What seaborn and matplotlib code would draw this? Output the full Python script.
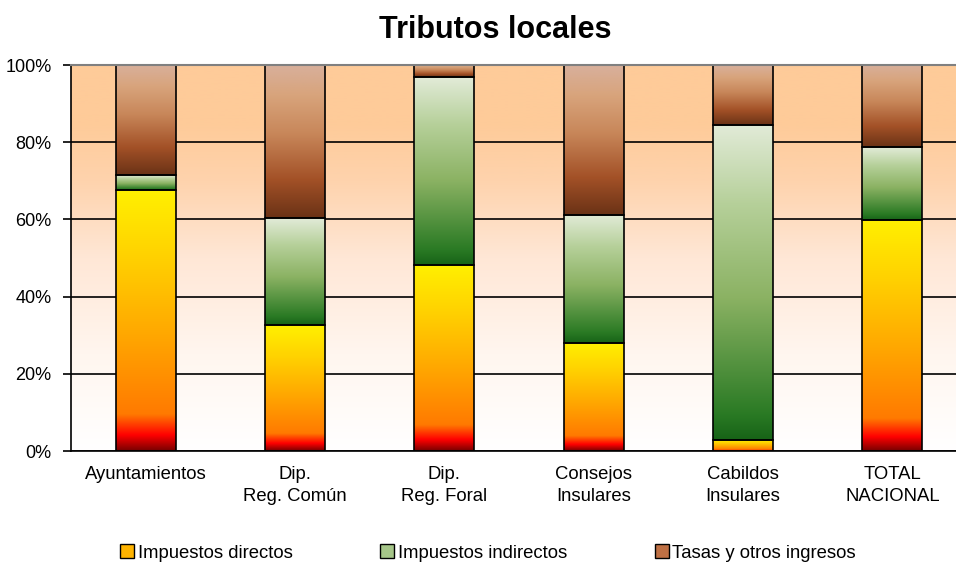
import numpy as np
import pandas as pd
import matplotlib
matplotlib.use("Agg")
import matplotlib.pyplot as plt
import seaborn as sns
from matplotlib.colors import LinearSegmentedColormap
from matplotlib.patches import Patch

# Datos (porcentaje de cada tipo de tributo)
categorias = ["Ayuntamientos", "Dip.\nReg. Común", "Dip.\nReg. Foral",
              "Consejos\nInsulares", "Cabildos\nInsulares", "TOTAL\nNACIONAL"]
directos = [67.6, 32.6, 48.3, 28.0, 2.8, 59.9]
indirectos = [3.8, 27.7, 48.5, 33.2, 81.7, 18.8]
tasas = [28.6, 39.7, 3.2, 38.8, 15.5, 21.3]
series = ["Impuestos directos", "Impuestos indirectos", "Tasas y otros ingresos"]

# Degradados (de abajo hacia arriba)
cmap_dir = LinearSegmentedColormap.from_list("dir", [
    (0.0, "#7a0000"), (0.06, "#ff0000"), (0.14, "#ff7a00"),
    (0.45, "#ffa800"), (0.75, "#ffd200"), (1.0, "#fff000")])
cmap_ind = LinearSegmentedColormap.from_list("ind", [
    (0.0, "#176317"), (0.08, "#2a7a24"), (0.45, "#8bb263"),
    (0.75, "#b6d09a"), (1.0, "#e2ebd8")])
cmap_tas = LinearSegmentedColormap.from_list("tas", [
    (0.0, "#6a3216"), (0.25, "#a35127"), (0.55, "#c8875a"),
    (0.8, "#d8a47c"), (1.0, "#d8b09c")])
cmap_fondo = LinearSegmentedColormap.from_list("fondo", [
    (0.0, "#ffffff"), (0.25, "#fff6ef"), (0.5, "#ffe7d6"),
    (0.7, "#fed3ad"), (0.85, "#fecb99"), (1.0, "#fecb99")])

df = pd.DataFrame({"categoria": categorias, "directos": directos,
                   "indirectos": indirectos, "tasas": tasas})

sns.set_style("white")
plt.rcParams["font.family"] = ["Liberation Sans", "DejaVu Sans"]
plt.rcParams["text.color"] = "black"
plt.rcParams["xtick.color"] = "black"
plt.rcParams["ytick.color"] = "black"

fig = plt.figure(figsize=(9.56, 5.62), dpi=100)
ax = fig.add_axes([71 / 956, 111 / 562, 896 / 956, 386 / 562])

# fondo degradado
grad = np.linspace(0, 1, 256).reshape(-1, 1)
ax.imshow(grad, extent=[0, 1, 0, 1], transform=ax.transAxes, cmap=cmap_fondo,
          origin="lower", aspect="auto", zorder=0)

# barras apiladas
base = np.zeros(len(categorias))
mapas = [cmap_dir, cmap_ind, cmap_tas]
for col, cm in zip(["directos", "indirectos", "tasas"], mapas):
    n_antes = len(ax.patches)
    sns.barplot(data=df, x="categoria", y=col, bottom=base, width=0.4,
                color="white", edgecolor="black", linewidth=1.2,
                ax=ax, zorder=2)
    for p in ax.patches[n_antes:]:
        x0, y0 = p.get_x(), p.get_y()
        w, h = p.get_width(), p.get_height()
        if h <= 0:
            continue
        im = ax.imshow(grad, extent=[x0, x0 + w, y0, y0 + h], cmap=cm,
                       origin="lower", aspect="auto", zorder=1.5)
        im.set_clip_path(p)
        p.set_facecolor("none")
    base = base + df[col].to_numpy()

ax.set_xlim(-0.5, 5.5)
ax.set_ylim(0, 100)
ax.set_aspect("auto")

# cuadrícula y ejes
ax.set_yticks(range(0, 101, 20))
ax.set_yticklabels([f"{v}%" for v in range(0, 101, 20)], fontsize=13)
ax.yaxis.grid(True, color="black", linewidth=1.2, zorder=0.5)
ax.set_axisbelow(True)
ax.set_xticks(np.arange(-0.5, 6, 1))
ax.set_xticklabels([])
ax.set_xticks(range(len(categorias)), minor=True)
ax.set_xticklabels(categorias, minor=True, fontsize=13.3, linespacing=1.35)
ax.tick_params(axis="x", which="minor", length=0, pad=11, labelcolor="black")
ax.tick_params(axis="x", which="major", direction="out", length=6, width=1.2, color="black")
ax.tick_params(axis="y", direction="out", length=6, width=1.2, color="black",
               left=True, pad=8, labelcolor="black")
ax.set_xlabel("")
ax.set_ylabel("")
for lado in ["left", "bottom"]:
    ax.spines[lado].set_color("black")
    ax.spines[lado].set_linewidth(1.2)
ax.spines["top"].set_color("#808080")
ax.spines["top"].set_linewidth(1.5)
ax.spines["right"].set_visible(False)

fig.text(495 / 956, 1 - 30 / 562, "Tributos locales", ha="center", va="center",
         fontsize=22, fontweight="bold", color="black")

handles = [Patch(facecolor="#ffb400", edgecolor="black"),
           Patch(facecolor="#a6c689", edgecolor="black"),
           Patch(facecolor="#bf7044", edgecolor="black")]
fig.legend(handles, series, loc="center", bbox_to_anchor=(488 / 956, 1 - 553 / 562),
           ncol=3, frameon=False, fontsize=13.3, handlelength=0.75, handleheight=0.75,
           handletextpad=0.2, columnspacing=4.75, labelcolor="black")

fig.savefig("out.png", dpi=100)
